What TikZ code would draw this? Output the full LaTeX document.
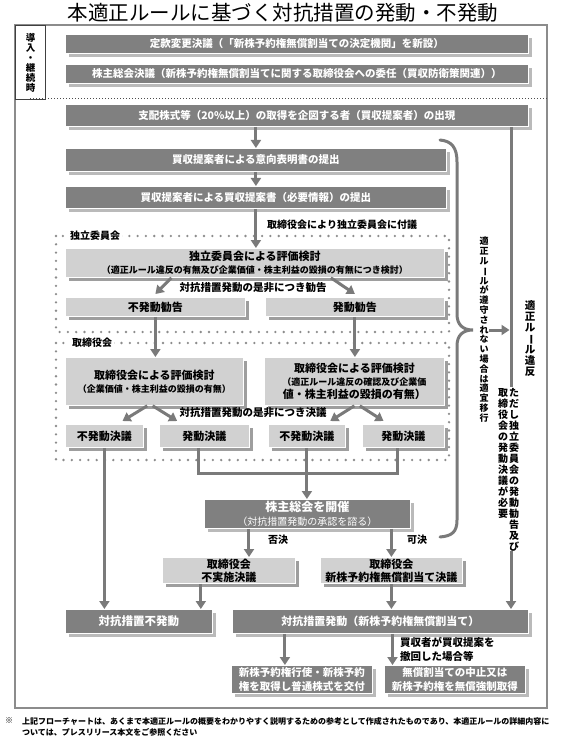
\documentclass[tikz,border=0pt]{standalone}
\usepackage{fontspec}
\setmainfont{Noto Sans CJK JP}
\usepackage{graphicx}
\usepackage{xcolor}
\usepackage{tikz}
\usetikzlibrary{arrows.meta,shadows,calc,positioning}

\newcommand{\vbar}{\rotatebox[origin=c]{-90}{ー}}

\begin{document}
\begin{tikzpicture}[
    x=1pt, y=-1pt,
    every node/.style={inner sep=0pt, align=center},
    dkbox/.style={fill=black!50, draw=white, line width=.8pt, text=white, anchor=north west,
      font=\bfseries\fontsize{10.5}{13.5}\selectfont,
      drop shadow={shadow xshift=3.5pt, shadow yshift=-3.5pt, fill=black!27, opacity=1}},
    ltbox/.style={fill=black!18, draw=white, line width=.8pt, text=black, anchor=north west,
      font=\bfseries\fontsize{11}{13}\selectfont,
      drop shadow={shadow xshift=3.5pt, shadow yshift=-3.5pt, fill=black!38, opacity=1}},
    flow/.style={-{Triangle[width=10pt,length=8pt]}, line width=3pt, draw=black!52},
    link/.style={line width=3pt, draw=black!52},
    panel/.style={draw=black!45, line width=2.6pt, line cap=round, dash pattern=on 0pt off 8.3pt},
    tag/.style={font=\bfseries\fontsize{10}{12}\selectfont},
  ]
  \useasboundingbox (0,0) rectangle (565,743);

  % title and frame
  \node[font=\fontsize{20.5}{24}\selectfont] (title) at (283,13) {本適正ルールに基づく対抗措置の発動・不発動};
  \draw[black!45, line width=1.5pt] (15,25) rectangle (547,708);
  \node[draw=black!75, line width=1.3pt, minimum width=30pt, minimum height=74pt, anchor=north west,
    font=\bfseries\fontsize{9.5}{10}\selectfont] (intro) at (15,25) {導\\入\\・\\継\\続\\時};
  \draw[black!70, line width=1pt, dash pattern=on 1pt off 2pt] (30,99) -- (547,99);

  % introduction
  \node[dkbox, minimum width=463pt, minimum height=19pt] (amend) at (65,34) {定款変更決議（「新株予約権無償割当ての決定機関」を新設）};
  \node[dkbox, minimum width=463pt, minimum height=19pt] (entrust) at (65,64) {株主総会決議（新株予約権無償割当てに関する取締役会への委任（買収防衛策関連））};

  % acquisition
  \node[dkbox, minimum width=463pt, minimum height=22pt] (emerge) at (65,104) {支配株式等（20\%以上）の取得を企図する者（買収提案者）の出現};
  \node[dkbox, minimum width=381pt, minimum height=23pt] (intent) at (65,148) {買収提案者による意向表明書の提出};
  \node[dkbox, minimum width=381pt, minimum height=22pt] (proposal) at (65,186) {買収提案者による買収提案書（必要情報）の提出};
  \node[tag, anchor=west] (refer) at (267,225) {取締役会により独立委員会に付議};

  % independent committee
  \draw[panel] (56,236) rectangle (449,332);
  \node[tag, fill=white, inner xsep=2pt, anchor=west] (iclabel) at (68,236) {独立委員会};
  \node[ltbox, minimum width=379pt, minimum height=29pt] (iceval) at (65,248) {独立委員会による評価検討\\\fontsize{9}{11}\selectfont （適正ルール違反の有無及び企業価値・株主利益の毀損の有無につき検討）};
  \node[tag, font=\bfseries\fontsize{10.5}{12}\selectfont] (advise) at (253,288) {対抗措置発動の是非につき勧告};
  \node[ltbox, minimum width=180pt, minimum height=19pt] (icno) at (65,297) {不発動勧告};
  \node[ltbox, minimum width=179pt, minimum height=19pt] (icyes) at (265,297) {発動勧告};

  % board
  \draw[panel] (56,343) rectangle (449,460);
  \node[tag, fill=white, inner xsep=2pt, anchor=west] (bdlabel) at (70,343) {取締役会};
  \node[ltbox, minimum width=178pt, minimum height=48pt] (bdeval) at (65,357) {取締役会による評価検討\\\fontsize{9}{11}\selectfont （企業価値・株主利益の毀損の有無）};
  \node[ltbox, minimum width=180pt, minimum height=48pt] (bdevalv) at (264,357) {取締役会による評価検討\\\fontsize{9}{12}\selectfont （適正ルール違反の確認及び企業価\\値・株主利益の毀損の有無）};
  \node[tag, font=\bfseries\fontsize{10.5}{12}\selectfont] (decide) at (253,413) {対抗措置発動の是非につき決議};
  \node[ltbox, minimum width=78pt, minimum height=23pt] (bdno) at (65,424) {不発動決議};
  \node[ltbox, minimum width=90pt, minimum height=23pt] (bdyes) at (159,424) {発動決議};
  \node[ltbox, minimum width=77pt, minimum height=23pt] (bdnov) at (268,424) {不発動決議};
  \node[ltbox, minimum width=82pt, minimum height=23pt] (bdyesv) at (362,424) {発動決議};

  % shareholders meeting
  \node[dkbox, minimum width=206pt, minimum height=29pt] (meeting) at (204,499) {{\fontsize{12}{14}\selectfont 株主総会を開催}\\\mdseries\fontsize{10}{12}\selectfont （対抗措置発動の承認を諮る）};
  \node[tag] (rej) at (278,540) {否決};
  \node[tag] (appr) at (417,540) {可決};
  \node[ltbox, minimum width=133pt, minimum height=26pt] (nonexec) at (162,557) {取締役会\\不実施決議};
  \node[ltbox, minimum width=142pt, minimum height=26pt] (allot) at (320,557) {取締役会\\新株予約権無償割当て決議};

  % outcome
  \node[dkbox, minimum width=147pt, minimum height=24pt, font=\bfseries\fontsize{11.5}{13}\selectfont] (nocm) at (65,609) {対抗措置不発動};
  \node[dkbox, minimum width=296pt, minimum height=24pt, font=\bfseries\fontsize{11}{13}\selectfont] (cm) at (232,609) {対抗措置発動（新株予約権無償割当て）};
  \node[tag, anchor=north west, align=left, font=\bfseries\fontsize{10.5}{14}\selectfont] (withdraw) at (400,637) {買収者が買収提案を\\撤回した場合等};
  \node[dkbox, minimum width=141pt, minimum height=28pt] (exercise) at (231,665) {新株予約権行使・新株予約\\権を取得し普通株式を交付};
  \node[dkbox, minimum width=141pt, minimum height=28pt] (cancel) at (384,665) {無償割当ての中止又は\\新株予約権を無償強制取得};

  % right side
  \node[anchor=north, font=\bfseries\fontsize{9}{9.8}\selectfont] (shiftnote) at (484,237) {適\\正\\ル\\\vbar\\ル\\が\\遵\\守\\さ\\れ\\な\\い\\場\\合\\は\\適\\宜\\移\\行};
  \node[anchor=north, font=\bfseries\fontsize{10.5}{11}\selectfont] (breach) at (530,300) {適\\正\\ル\\\vbar\\ル\\違\\反};
  \node[anchor=north, font=\bfseries\fontsize{10}{11}\selectfont] (proviso) at (514,388) {た\\だ\\し\\独\\立\\委\\員\\会\\の\\発\\動\\勧\\告\\及\\び};
  \node[anchor=north, font=\bfseries\fontsize{10}{11}\selectfont] (provisob) at (503,388) {取\\締\\役\\会\\の\\発\\動\\決\\議\\が\\必\\要};

  % footnote
  \node[anchor=north west, font=\bfseries\fontsize{8}{11}\selectfont] (notemark) at (5,717) {※};
  \node[anchor=north west, align=left, font=\bfseries\fontsize{8}{11}\selectfont] (note) at (22,717) {上記フローチャートは、あくまで本適正ルールの概要をわかりやすく説明するための参考として作成されたものであり、本適正ルールの詳細内容に\\ついては、プレスリリース本文をご参照ください};

  % connectors
  \draw[flow] (emerge.south -| intent.north) -- (intent.north);
  \draw[flow] (intent.south) -- (proposal.north);
  \draw[flow] (proposal.south) -- (proposal.south |- iceval.north);
  \draw[flow] ($(iceval.south west)!.28!(iceval.south east)$) -- ($(icno.north)+(0,-3)$);
  \draw[flow] ($(iceval.south west)!.70!(iceval.south east)$) -- ($(icyes.north)+(0,-3)$);
  \draw[flow] (icno.south) -- (icno.south |- bdeval.north);
  \draw[flow] (icyes.south) -- (icyes.south |- bdevalv.north);
  \draw[flow] ($(bdeval.south west)!.46!(bdeval.south east)$) -- ($(bdno.north west)!.73!(bdno.north east)+(0,-3)$);
  \draw[flow] ($(bdeval.south west)!.49!(bdeval.south east)$) -- ($(bdyes.north west)!.2!(bdyes.north east)+(0,-3)$);
  \draw[flow] ($(bdevalv.south west)!.5!(bdevalv.south east)$) -- ($(bdnov.north west)!.8!(bdnov.north east)+(0,-3)$);
  \draw[flow] ($(bdevalv.south west)!.53!(bdevalv.south east)$) -- ($(bdyesv.north west)!.26!(bdyesv.north east)+(0,-3)$);
  \draw[flow] (bdno.south) -- (bdno.south |- nocm.north);
  \coordinate (merge) at (bdnov.south |- 0,473);
  \draw[link] ($(bdyes.south west)!.43!(bdyes.south east)$) |- (merge) -| ($(bdyesv.south west)!.43!(bdyesv.south east)$);
  \draw[link] (bdnov.south) -- (merge);
  \draw[flow] (merge) -- (merge |- meeting.north);
  \coordinate (nofork) at ($(nonexec.north west)!.65!(nonexec.north east)$);
  \draw[flow] (meeting.south -| nofork) -- (nofork);
  \draw[flow] (meeting.south -| allot.north) -- (allot.north);
  \coordinate (noexit) at ($(nonexec.south west)!.29!(nonexec.south east)$);
  \draw[flow] (noexit) -- (noexit |- nocm.north);
  \draw[flow] (allot.south) -- (allot.south |- cm.north);
  \coordinate (exin) at ($(exercise.north west)!.38!(exercise.north east)$);
  \draw[flow] (cm.south -| exin) -- (exin);
  \coordinate (cain) at ($(cancel.north west)!.06!(cancel.north east)$);
  \draw[flow] (cm.south -| cain) -- (cain);

  % breach line and bracket
  \coordinate (vtop) at (emerge.south -| 511,0);
  \coordinate (vmid) at (511,387);
  \draw[link] (vtop) -- (vmid);
  \draw[flow] (proviso.south -| vmid) -- (vmid |- cm.north);
  \coordinate (brtip) at (473,330);
  \coordinate (shiftout) at (489,330);
  \draw[link, line cap=round] (440,140) .. controls (452,141) and (457,148) .. (457,162) -- (457,314)
    .. controls (457,325) and (463,330) .. (brtip) .. controls (463,330) and (457,335) .. (457,346)
    -- (457,520) .. controls (457,532) and (452,536) .. (440,537);
  \draw[flow, shorten >=1.5pt] (shiftout) -- (vmid |- brtip);
\end{tikzpicture}
\end{document}
